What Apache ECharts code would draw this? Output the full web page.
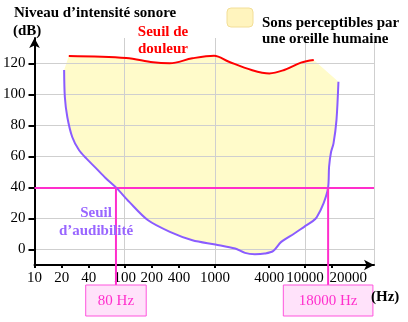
<!DOCTYPE html>
<html>
<head>
<meta charset="utf-8">
<script src="https://cdn.jsdelivr.net/npm/echarts@6/dist/echarts.min.js"></script>
<style>
  html, body { margin: 0; padding: 0; background: #fff; }
  #chart { width: 408px; height: 322px; }
</style>
</head>
<body>
<div id="chart"></div>
<script>
// Frequency axis tick labels (Hz) and sound level tick labels (dB)
const freqTicks = [10, 20, 40, 100, 200, 400, 1000, 4000, 10000, 20000];
const dbTicks = [0, 20, 40, 60, 80, 100, 120];

// Threshold of pain (Hz, dB)
const painFreq = [24, 104, 206, 315, 563, 980, 1430, 2550, 4020, 5860, 9000, 12480];
const painDb = [124.7, 123.4, 120.6, 120, 123.2, 124.9, 121, 115.7, 113.5, 115.7, 120.4, 122.1];

// Threshold of hearing (Hz, dB)
const hearingFreq = [21.3, 21.7, 23.1, 26.2, 31.1, 37.5, 47.7, 61.3, 80, 113, 180, 317, 563, 1013,
  1676, 2156, 2774, 3568, 4410, 5436, 7600, 9775, 12170, 13460, 16060, 18000, 18450, 19400, 20660, 22280, 23430];
const hearingDb = [115.7, 98.3, 85.4, 72.5, 64.1, 58.7, 52.6, 46.1, 40, 30.5, 19, 11.4, 6, 3.2,
  0.6, -2.2, -3, -2.6, -1.1, 4.9, 10.3, 14.6, 18.3, 20.8, 29.9, 40, 53.3, 62.8, 68.4, 83.4, 108.1];

// Hearing limits at 40 dB
const refDb = 40;
const refFreqs = [80, 18000];
const refLabels = ['80 Hz', '18000 Hz'];

const SERIF = '"Liberation Serif", "DejaVu Serif", "Times New Roman", serif';
const MAGENTA = '#FF2ECC';
const PURPLE = '#8A5CFF';
const lg = Math.log10;

const painPts = painFreq.map((f, i) => [lg(f), painDb[i]]);
const hearingPts = hearingFreq.map((f, i) => [lg(f), hearingDb[i]]);

const X_MIN = 1, X_MAX = 4.764;
const Y_MIN = -10, Y_MAX = 136.3;

const chart = echarts.init(document.getElementById('chart'), null, { renderer: 'canvas' });

chart.setOption({
  animation: false,
  grid: { left: 30, right: 34, top: 38, bottom: 57 },
  xAxis: [
    {
      type: 'value', min: X_MIN, max: X_MAX, z: 3,
      axisLine: {
        show: true, onZero: false,
        lineStyle: { color: '#000', width: 2 },
        symbol: ['none', 'arrow'], symbolSize: [8, 10]
      },
      axisTick: { show: true, customValues: freqTicks.map(lg), length: 3, lineStyle: { color: '#000', width: 2 } },
      axisLabel: {
        customValues: freqTicks.map(lg), margin: 6, color: '#000',
        fontFamily: SERIF, fontSize: 15,
        formatter: v => {
          const f = Math.round(Math.pow(10, v));
          return f === 20000 ? '{s|' + f + '}' : String(f);
        },
        rich: { s: { fontFamily: SERIF, fontSize: 15, color: '#000', padding: [0, 0, 0, 32] } }
      },
      splitLine: { show: false }
    },
    {
      // decade grid lines
      type: 'value', min: X_MIN, max: X_MAX, interval: 1, position: 'bottom', z: 3,
      axisLine: { show: false }, axisTick: { show: false }, axisLabel: { show: false },
      splitLine: { show: true, lineStyle: { color: '#cfcfcf', width: 1 } }
    }
  ],
  yAxis: {
    type: 'value', min: Y_MIN, max: Y_MAX, z: 3,
    axisLine: {
      show: true, onZero: false,
      lineStyle: { color: '#000', width: 2 },
      symbol: ['none', 'arrow'], symbolSize: [8, 10]
    },
    axisTick: { show: true, customValues: dbTicks, length: 6, lineStyle: { color: '#000', width: 2 } },
    axisLabel: { customValues: dbTicks, margin: 9, color: '#000', fontFamily: SERIF, fontSize: 15 },
    splitLine: { show: true, lineStyle: { color: '#cfcfcf', width: 1 } }
  },
  series: [
    {
      // audible region between the two thresholds
      type: 'custom', name: 'audible', z: 1, silent: true,
      data: [[X_MIN, 0]],
      renderItem: (params, api) => {
        const ring = painPts.concat(hearingPts.slice().reverse());
        return {
          type: 'polygon',
          shape: { points: ring.map(p => api.coord(p)), smooth: 0 },
          style: { fill: '#FFFBCA' }
        };
      }
    },
    {
      type: 'line', name: 'Seuil de douleur', z: 5, data: painPts,
      smooth: 0.35, showSymbol: false, silent: true,
      lineStyle: { color: '#FF0000', width: 2 }
    },
    {
      type: 'line', name: "Seuil d'audibilité", z: 5, data: hearingPts,
      smooth: 0.3, showSymbol: false, silent: true,
      lineStyle: { color: PURPLE, width: 2 }
    },
    {
      type: 'custom', name: 'limits', z: 6, silent: true, clip: false,
      data: refFreqs.map((f, i) => [lg(f), refDb, i]),
      renderItem: (params, api) => {
        const i = api.value(2);
        const p = api.coord([api.value(0), api.value(1)]);
        const label = refLabels[i];
        const w = 12 + label.length * 9.7;
        const boxTop = 285, boxH = 31;
        return {
          type: 'group',
          children: [
            { type: 'line', shape: { x1: p[0], y1: p[1], x2: p[0], y2: boxTop },
              style: { stroke: MAGENTA, lineWidth: 2 } },
            { type: 'rect', shape: { x: p[0] - w / 2, y: boxTop, width: w, height: boxH },
              style: { fill: '#FFE2FA', stroke: '#FF55DD', lineWidth: 1 } },
            { type: 'text', x: p[0], y: boxTop + boxH / 2 + 1,
              style: { text: label, align: 'center', verticalAlign: 'middle',
                       fill: MAGENTA, font: '15px ' + SERIF } }
          ]
        };
      },
      markLine: {
        silent: true, symbol: 'none', animation: false,
        label: { show: false },
        lineStyle: { color: MAGENTA, width: 2, type: 'solid' },
        data: [{ yAxis: refDb }]
      }
    }
  ],
  graphic: [
    { type: 'text', x: 14, y: 13, z: 10,
      style: { text: 'Niveau d’intensité sonore', font: 'bold 15px ' + SERIF, fill: '#000', verticalAlign: 'middle' } },
    { type: 'text', x: 13, y: 31, z: 10,
      style: { text: '(dB)', font: 'bold 15px ' + SERIF, fill: '#000', verticalAlign: 'middle' } },
    { type: 'text', x: 163, y: 40.5, z: 10,
      style: { text: 'Seuil de\ndouleur', font: 'bold 15px ' + SERIF, fill: '#FF0000',
               align: 'center', verticalAlign: 'middle', lineHeight: 17 } },
    { type: 'rect', x: 227, y: 8, z: 10,
      shape: { width: 26, height: 19, r: 4 },
      style: { fill: '#FFF4BE', stroke: '#F2DE98', lineWidth: 1 } },
    { type: 'text', x: 262, y: 31, z: 10,
      style: { text: 'Sons perceptibles par\nune oreille humaine', font: 'bold 15px ' + SERIF, fill: '#000',
               verticalAlign: 'middle', lineHeight: 16 } },
    { type: 'text', x: 96, y: 222, z: 10,
      style: { text: 'Seuil\nd’audibilité', font: 'bold 15px ' + SERIF, fill: '#9966FF',
               align: 'center', verticalAlign: 'middle', lineHeight: 18 } },
    { type: 'text', x: 371, y: 297, z: 10,
      style: { text: '(Hz)', font: 'bold 15px ' + SERIF, fill: '#000', verticalAlign: 'middle' } }
  ]
});
</script>
</body>
</html>
